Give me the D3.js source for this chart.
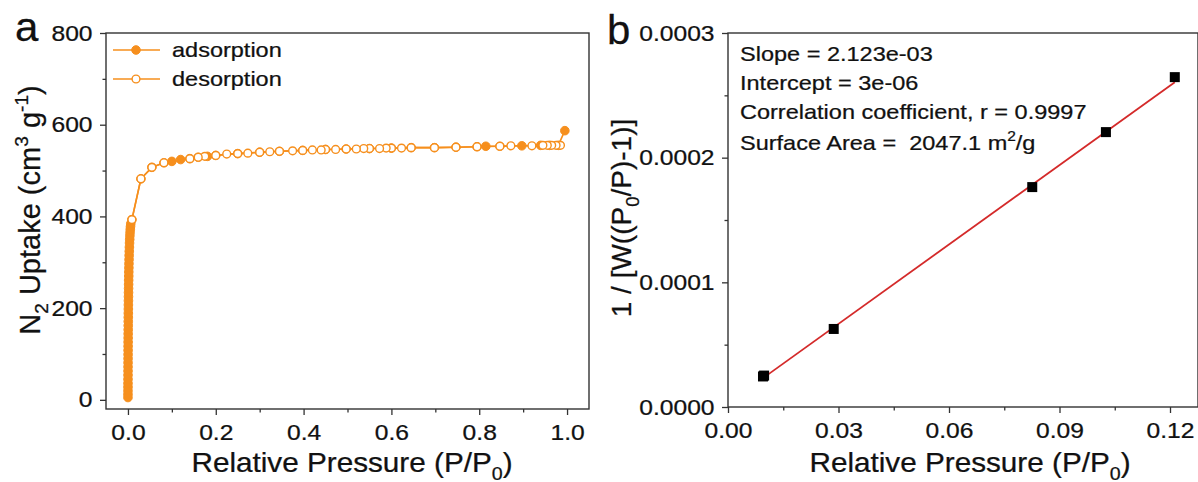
<!DOCTYPE html>
<html><head><meta charset="utf-8">
<script src="https://cdn.jsdelivr.net/npm/d3@7/dist/d3.min.js"></script>
<style>
html,body{margin:0;padding:0;background:#fff;}
svg text{font-family:"Liberation Sans",Arial,Helvetica,sans-serif;fill:#111;stroke:#111;stroke-width:0.25px;}
</style></head>
<body><svg id="c" width="1198" height="482"></svg>
<script>
// ---------- Panel a data ----------
const adsLowP = [0.00002,0.00004,0.00006,0.00008,0.0001,0.00012,0.00015,0.00018,0.0002,0.00023,0.00026,0.0003,0.00034,0.00038,0.00042,0.00047,0.00052,0.00057,0.00063,0.0007,0.00077,0.00085,0.00093,0.001,0.0011,0.0012,0.0013,0.0014,0.0015,0.0016,0.0018,0.0019,0.0021,0.0023,0.0025,0.0027,0.003,0.0033,0.0036,0.004,0.0044,0.0048,0.0053,0.0058,0.0064];
const adsLowV = [5,12,20,28,36,45,54,63,72,81,90,99,108,117,126,135,144,153,162,171,180,189,198,207,216,225,234,243,252,261,270,279,288,297,306,315,324,333,342,350,358,365,372,378,384];
const adsHighP = [0.009,0.0295,0.0545,0.082,0.1,0.12,0.141,0.16,0.181,0.2,0.25,0.3,0.345,0.398,0.45,0.497,0.55,0.6,0.645,0.698,0.747,0.795,0.815,0.847,0.897,0.94,0.96,0.98,0.995];
const adsHighV = [393,482,507,517,520,524,526,529,531,533,537,540,542,544,546,547,548,549,550,550,551,552,553,553,554,555,555,555,587];
const desP = [0.985,0.975,0.965,0.955,0.945,0.92,0.872,0.847,0.795,0.747,0.698,0.645,0.623,0.6,0.588,0.573,0.55,0.537,0.52,0.497,0.473,0.45,0.44,0.42,0.398,0.375,0.345,0.323,0.3,0.273,0.25,0.225,0.2,0.175,0.16,0.141,0.082,0.0545,0.0295,0.009];
const desV = [555,555,555,555,555,554,554,553,552,551,550,550,549,549,549,548,548,548,547,547,546,546,545,545,544,543,542,541,540,538,537,536,533,531,529,526,517,507,482,393];
const aXTicks = [0.0,0.2,0.4,0.6,0.8,1.0];
const aYTicks = [0,200,400,600,800];
const seriesNames = ["adsorption","desorption"];

// ---------- Panel b data ----------
const bP = [0.0095,0.0098,0.0287,0.0826,0.1026,0.1213];
const bV = [0.0000245,0.0000252,0.0000626,0.0001764,0.0002205,0.0002646];
const fitSlope = 2.123e-3, fitIntercept = 3e-6;
const bXTicks = [0.00,0.03,0.06,0.09,0.12];
const bYTicks = [0.0000,0.0001,0.0002,0.0003];
const bNotes = ["Slope = 2.123e-03","Intercept = 3e-06","Correlation coefficient, r = 0.9997"];

const ORANGE = "#f68f1d", AX = "#333";
const SX = 1.12;
const svg = d3.select("#c");

function rich(sel, parts, fs){
  let shift = 0;
  parts.forEach(([t,k])=>{
    const sp = sel.append("tspan").text(t);
    let target = 0, size = fs;
    if(k==="sub"){target = 0.28*fs; size = 0.66*fs;}
    if(k==="sup"){target = -0.42*fs; size = 0.66*fs;}
    sp.attr("dy", target-shift).style("font-size", size+"px");
    shift = target;
  });
}

function frameAxes(g, x, y, xt, yt, xminor, yminor, fmtX, fmtY){
  const [x0,x1] = x.range(), [y0,y1] = y.range();
  const xa = g.append("g").attr("transform",`translate(0,${y0})`)
    .call(d3.axisBottom(x).tickValues(xt).tickFormat(fmtX).tickSize(6).tickPadding(9).tickSizeOuter(0));
  const xm = g.append("g").attr("transform",`translate(0,${y0})`)
    .call(d3.axisBottom(x).tickValues(xminor).tickFormat("").tickSize(3.5).tickSizeOuter(0));
  const ya = g.append("g").attr("transform",`translate(${x0},0)`)
    .call(d3.axisLeft(y).tickValues(yt).tickFormat(fmtY).tickSize(6).tickPadding(6).tickSizeOuter(0));
  const ym = g.append("g").attr("transform",`translate(${x0},0)`)
    .call(d3.axisLeft(y).tickValues(yminor).tickFormat("").tickSize(3.5).tickSizeOuter(0));
  [xa,xm,ya,ym].forEach(a=>{
    a.select(".domain").remove();
    a.selectAll("line").attr("stroke",AX).attr("stroke-width",1.3);
    a.selectAll("text").style("font-size","22px").attr("fill","#111")
      .attr("transform",`scale(${SX},1)`);
  });
  g.append("rect").attr("x",x0).attr("y",y1).attr("width",x1-x0).attr("height",y0-y1)
    .attr("fill","none").attr("stroke",AX).attr("stroke-width",1.4);
}

// ================= Panel a =================
const ga = svg.append("g");
const xa = d3.scaleLinear().domain([-0.05,1.05]).range([106,589]);
const ya = d3.scaleLinear().domain([-20,800]).range([409,33]);
frameAxes(ga, xa, ya, aXTicks, aYTicks, [0.1,0.3,0.5,0.7,0.9], [100,300,500,700],
  d3.format(".1f"), d3.format("d"));

const adsData = adsLowP.map((p,i)=>({p, v:adsLowV[i]})).concat(adsHighP.map((p,i)=>({p, v:adsHighV[i]})));
const desData = desP.map((p,i)=>({p, v:desV[i]}));
const line = d3.line().x(d=>xa(d.p)).y(d=>ya(d.v));
ga.append("path").datum(adsData).attr("d",line).attr("fill","none").attr("stroke",ORANGE).attr("stroke-width",1.6);
ga.selectAll("circle.ads").data(adsData).join("circle").attr("class","ads")
  .attr("cx",d=>xa(d.p)).attr("cy",d=>ya(d.v)).attr("r",4.3).attr("fill",ORANGE).attr("stroke",ORANGE).attr("stroke-width",1);
ga.append("path").datum(desData).attr("d",line).attr("fill","none").attr("stroke",ORANGE).attr("stroke-width",1.6);
ga.selectAll("circle.des").data(desData).join("circle").attr("class","des")
  .attr("cx",d=>xa(d.p)).attr("cy",d=>ya(d.v)).attr("r",3.9).attr("fill","#fff").attr("stroke",ORANGE).attr("stroke-width",1.4);

// legend
seriesNames.forEach((n,i)=>{
  const yy = 50 + i*29;
  ga.append("line").attr("x1",113).attr("x2",160).attr("y1",yy).attr("y2",yy).attr("stroke",ORANGE).attr("stroke-width",1.6);
  ga.append("circle").attr("cx",136).attr("cy",yy).attr("r",i===0?4.3:3.9)
    .attr("fill",i===0?ORANGE:"#fff").attr("stroke",ORANGE).attr("stroke-width",i===0?1:1.4);
  ga.append("text").attr("transform",`translate(172,${yy+7}) scale(${SX},1)`).style("font-size","21px").text(n);
});

// titles
const txa = ga.append("text").attr("text-anchor","middle").attr("transform",`translate(352,472) scale(1.1,1)`).style("font-size","27px");
rich(txa, [["Relative Pressure (P/P","n"],["0","sub"],[")","n"]], 27);
const tya = ga.append("text").attr("text-anchor","middle").attr("transform",`translate(40,210) rotate(-90)`).style("font-size","29px");
rich(tya, [["N","n"],["2","sub"],[" Uptake (cm","n"],["3","sup"],[" g","n"],["-1","sup"],[")","n"]], 29);
ga.append("text").attr("transform",`translate(15,41) scale(1.05,1)`).style("font-size","40px").text("a");

// ================= Panel b =================
const gb = svg.append("g");
const xb = d3.scaleLinear().domain([0,0.1276]).range([728,1198]);
const yb = d3.scaleLinear().domain([0,0.0003]).range([407,33]);
frameAxes(gb, xb, yb, bXTicks, bYTicks, [0.015,0.045,0.075,0.105], [0.00005,0.00015,0.00025],
  d3.format(".2f"), d3.format(".4f"));

const fitX = [d3.min(bP), d3.max(bP)];
gb.append("line").attr("x1",xb(fitX[0])).attr("y1",yb(fitSlope*fitX[0]+fitIntercept))
  .attr("x2",xb(fitX[1])).attr("y2",yb(fitSlope*fitX[1]+fitIntercept))
  .attr("stroke","#d42a2a").attr("stroke-width",1.8);
gb.selectAll("rect.pt").data(bP.map((p,i)=>({p,v:bV[i]}))).join("rect").attr("class","pt")
  .attr("x",d=>xb(d.p)-5).attr("y",d=>yb(d.v)-5).attr("width",10).attr("height",10).attr("fill","#000");

const noteY = [61,90,119];
bNotes.forEach((t,i)=>{
  gb.append("text").attr("transform",`translate(740,${noteY[i]}) scale(${SX},1)`).style("font-size","21px").text(t);
});
const sa = gb.append("text").attr("transform",`translate(740,150) scale(${SX},1)`).style("font-size","21px").style("white-space","pre");
rich(sa, [["Surface Area =  2047.1 m","n"],["2","sup"],["/g","n"]], 21);

const txb = gb.append("text").attr("text-anchor","middle").attr("transform",`translate(970,472) scale(1.1,1)`).style("font-size","27px");
rich(txb, [["Relative Pressure (P/P","n"],["0","sub"],[")","n"]], 27);
const tyb = gb.append("text").attr("text-anchor","middle").attr("transform",`translate(631,218) rotate(-90)`).style("font-size","28px");
rich(tyb, [["1 / [W((P","n"],["0","sub"],["/P)-1)]","n"]], 28);
gb.append("text").attr("transform",`translate(607,44) scale(1.05,1)`).style("font-size","40px").text("b");
</script></body></html>
